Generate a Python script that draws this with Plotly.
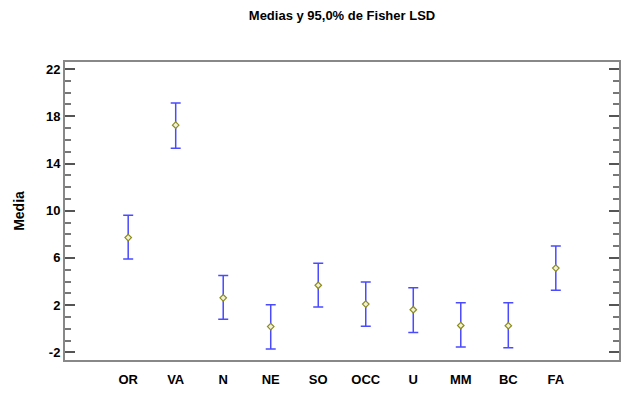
import plotly.graph_objects as go

categories = ["OR", "VA", "N", "NE", "SO", "OCC", "U", "MM", "BC", "FA"]
means = [7.72, 17.25, 2.62, 0.18, 3.68, 2.09, 1.61, 0.27, 0.25, 5.14]
upper = [9.62, 19.12, 4.50, 2.03, 5.55, 3.96, 3.48, 2.20, 2.20, 7.01]
lower = [5.91, 15.30, 0.80, -1.72, 1.84, 0.20, -0.31, -1.55, -1.61, 3.26]
y_ticks = [-2, 2, 6, 10, 14, 18, 22]

x_idx = list(range(len(categories)))
err_plus = [u - m for u, m in zip(upper, means)]
err_minus = [m - l for m, l in zip(means, lower)]

FONT = "Liberation Sans, Arial, sans-serif"

fig = go.Figure()
fig.add_trace(go.Scatter(
    x=x_idx, y=means, mode="markers",
    marker=dict(symbol="diamond", size=5, color="#f2f2dc",
                line=dict(color="#8c8c1e", width=1.2)),
    error_y=dict(type="data", symmetric=False, array=err_plus, arrayminus=err_minus,
                 color="#4a4aff", thickness=1.5, width=5),
    showlegend=False,
))

fig.update_layout(
    width=642, height=394,
    paper_bgcolor="white", plot_bgcolor="white",
    margin=dict(l=65, r=23, t=62, b=34, autoexpand=False),
    title=dict(text="<b>Medias y 95,0% de Fisher LSD</b>", x=0.5, xanchor="center",
               xref="paper", y=0.962, yanchor="middle", automargin=False,
               font=dict(family=FONT, size=13, color="black")),
    font=dict(family=FONT, color="black"),
)
fig.update_xaxes(
    range=[-1.33, 10.33], automargin=False,
    tickvals=x_idx, ticktext=["<b>%s</b>" % c for c in categories],
    tickfont=dict(size=13, color="black"),
    showgrid=False, zeroline=False,
    showline=True, linecolor="#888888", linewidth=2, mirror=True,
    ticks="", ticklabelstandoff=6,
)
fig.update_yaxes(
    range=[-2.65, 22.6], automargin=False,
    tickvals=y_ticks, ticktext=["<b>%d</b>" % v for v in y_ticks],
    tickfont=dict(size=13, color="black"),
    showgrid=False, zeroline=False,
    showline=True, linecolor="#888888", linewidth=2, mirror="allticks",
    ticks="inside", ticklen=10, tickwidth=1.5, tickcolor="#555555",
    minor=dict(dtick=1, tick0=0, ticks="inside", ticklen=6, tickwidth=1.5,
               tickcolor="#777777", showgrid=False),
    title=dict(text="<b>Media</b>", font=dict(size=14, color="black"), standoff=18),
)

fig.write_html("out.html", config={"displayModeBar": False},
               post_script="document.body.style.margin='0';")
